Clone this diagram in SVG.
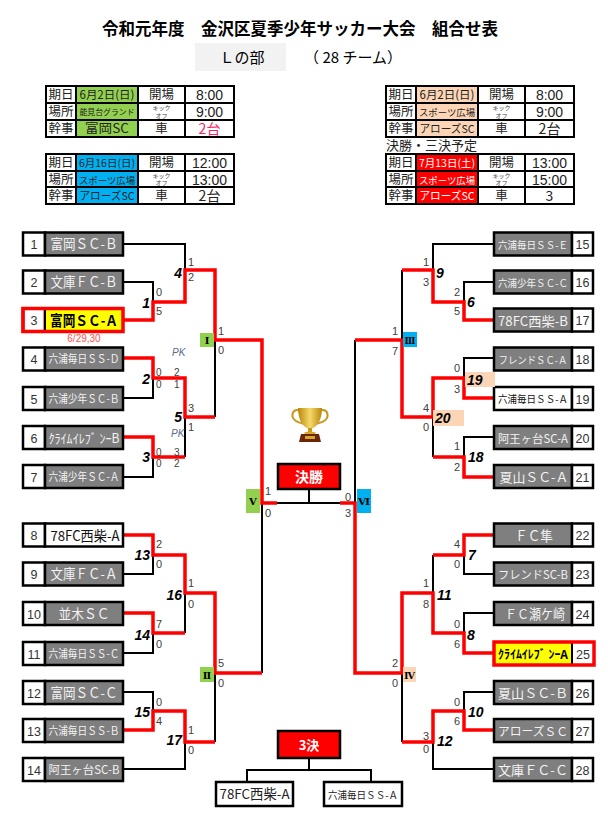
<svg xmlns="http://www.w3.org/2000/svg" width="608" height="815" viewBox="0 0 608 815">
<defs>
<style>
text{font-family:'Liberation Sans','Noto Sans CJK JP',sans-serif}
.jp{font-family:'Noto Sans CJK JP',sans-serif}
.k{fill:none;stroke:#000;stroke-width:2}
.r{fill:none;stroke:#ff0000;stroke-width:3.5;stroke-linejoin:miter}
.num{fill:#fff;stroke:#000;stroke-width:2.5}
.nm{fill:#7f7f7f;stroke:#000;stroke-width:2.5}
.nt{fill:#f2f2f2;text-anchor:middle;font-family:'Noto Sans CJK JP',sans-serif}
.nn{fill:#333;font-size:12.5px;text-anchor:middle}
.s{fill:#404040;font-size:11px}
.p{fill:#404040;font-size:10px}
.se{fill:#404040;font-size:11px;text-anchor:end}
.m{font-size:14px;font-weight:bold;font-style:italic;text-anchor:end;fill:#000}
.mr{font-size:14px;font-weight:bold;font-style:italic;fill:#000}
.rn{font-family:'DejaVu Serif',serif;font-weight:bold;font-size:10px;text-anchor:middle;fill:#000}
.cell{stroke:#000;stroke-width:2}
.tl{font-family:'Noto Sans CJK JP',sans-serif;font-size:12.5px;text-anchor:middle;fill:#222}
.tv{font-family:'Noto Sans CJK JP',sans-serif;text-anchor:middle;fill:#222}
.tt{font-size:14px;text-anchor:middle;fill:#222}
.ko{font-family:'Noto Sans CJK JP',sans-serif;font-size:6px;text-anchor:middle;fill:#444}
</style>
<linearGradient id="gold" x1="0" y1="0" x2="1" y2="0">
<stop offset="0" stop-color="#b8860b"/><stop offset="0.5" stop-color="#f7d96a"/><stop offset="1" stop-color="#b8860b"/>
</linearGradient>
</defs>
<rect width="608" height="815" fill="#fff"/>

<!-- title -->
<g id="title">
<text x="300" y="35" font-size="16.5" font-weight="bold" text-anchor="middle" class="jp" textLength="396" lengthAdjust="spacingAndGlyphs">令和元年度　金沢区夏季少年サッカー大会　組合せ表</text>
<rect x="195" y="43" width="91" height="28" fill="#f2f2f2"/>
<text x="242" y="63" font-size="15" text-anchor="middle" class="jp">Ｌの部</text>
<text x="353" y="63" font-size="15" text-anchor="middle" class="jp">（ 28 チーム）</text>
</g>

<!-- table 1 -->
<g id="table1">
<rect x="76" y="86" width="62" height="51" fill="#92d050"/>
<rect x="46" y="86" width="188" height="51" fill="none" class="cell"/>
<path class="cell" d="M76,86V137M138,86V137M185,86V137M46,103H234M46,120H234"/>
<text class="tl" x="61" y="99">期日</text><text class="tl" x="61" y="116">場所</text><text class="tl" x="61" y="133">幹事</text>
<text class="tv" x="107" y="99" font-size="11.5" textLength="55" lengthAdjust="spacingAndGlyphs">6月2日(日)</text>
<text class="tv" x="107" y="115" font-size="8" textLength="55" lengthAdjust="spacingAndGlyphs">能見台グランド</text>
<text class="tv" x="107" y="133" font-size="12.5" textLength="44" lengthAdjust="spacingAndGlyphs">富岡SC</text>
<text class="tl" x="161.5" y="99">開場</text>
<text class="ko" x="161.5" y="110">キック</text><text class="ko" x="161.5" y="117.5">オフ</text>
<text class="tl" x="161.5" y="133">車</text>
<text class="tt" x="209.5" y="100">8:00</text><text class="tt" x="209.5" y="117">9:00</text>
<text class="tv" x="209.5" y="134" font-size="14" style="fill:#ff2060">2台</text>
</g>

<!-- table 2 -->
<g id="table2">
<rect x="76" y="154" width="62" height="50" fill="#00b0f0"/>
<rect x="46" y="154" width="188" height="50" fill="none" class="cell"/>
<path class="cell" d="M76,154V204M138,154V204M185,154V204M46,171H234M46,187H234"/>
<text class="tl" x="61" y="167">期日</text><text class="tl" x="61" y="184">場所</text><text class="tl" x="61" y="200">幹事</text>
<text class="tv" x="107" y="167" font-size="10.5" textLength="56" lengthAdjust="spacingAndGlyphs">6月16日(日)</text>
<text class="tv" x="107" y="184" font-size="9.5" textLength="56" lengthAdjust="spacingAndGlyphs">スポーツ広場</text>
<text class="tv" x="107" y="200" font-size="11" textLength="55" lengthAdjust="spacingAndGlyphs">アローズSC</text>
<text class="tl" x="161.5" y="167">開場</text>
<text class="ko" x="161.5" y="177.5">キック</text><text class="ko" x="161.5" y="185">オフ</text>
<text class="tl" x="161.5" y="200">車</text>
<text class="tt" x="209.5" y="168">12:00</text><text class="tt" x="209.5" y="185">13:00</text>
<text class="tv" x="209.5" y="201" font-size="14">2台</text>
</g>

<!-- table 3 -->
<g id="table3">
<rect x="416" y="86" width="62" height="51" fill="#fbd5b5"/>
<rect x="386" y="86" width="188" height="51" fill="none" class="cell"/>
<path class="cell" d="M416,86V137M478,86V137M525,86V137M386,103H574M386,120H574"/>
<text class="tl" x="401" y="99">期日</text><text class="tl" x="401" y="116">場所</text><text class="tl" x="401" y="133">幹事</text>
<text class="tv" x="447" y="99" font-size="11.5" textLength="55" lengthAdjust="spacingAndGlyphs">6月2日(日)</text>
<text class="tv" x="447" y="116" font-size="9.5" textLength="56" lengthAdjust="spacingAndGlyphs">スポーツ広場</text>
<text class="tv" x="447" y="133" font-size="11" textLength="55" lengthAdjust="spacingAndGlyphs">アローズSC</text>
<text class="tl" x="501.5" y="99">開場</text>
<text class="ko" x="501.5" y="110">キック</text><text class="ko" x="501.5" y="117.5">オフ</text>
<text class="tl" x="501.5" y="133">車</text>
<text class="tt" x="549.5" y="100">8:00</text><text class="tt" x="549.5" y="117">9:00</text>
<text class="tv" x="549.5" y="134" font-size="14">2台</text>
</g>
<text x="386" y="150" font-size="13" class="jp" fill="#222">決勝・三決予定</text>

<!-- table 4 -->
<g id="table4">
<rect x="416" y="154" width="62" height="50" fill="#ff0000"/>
<rect x="386" y="154" width="188" height="50" fill="none" class="cell"/>
<path class="cell" d="M416,154V204M478,154V204M525,154V204M386,171H574M386,187H574"/>
<text class="tl" x="401" y="167">期日</text><text class="tl" x="401" y="184">場所</text><text class="tl" x="401" y="200">幹事</text>
<text class="tv" x="447" y="167" font-size="10.5" textLength="56" lengthAdjust="spacingAndGlyphs" style="fill:#fff">7月13日(土)</text>
<text class="tv" x="447" y="184" font-size="9.5" textLength="56" lengthAdjust="spacingAndGlyphs" style="fill:#fff">スポーツ広場</text>
<text class="tv" x="447" y="200" font-size="11" textLength="55" lengthAdjust="spacingAndGlyphs" style="fill:#fff">アローズSC</text>
<text class="tl" x="501.5" y="167">開場</text>
<text class="ko" x="501.5" y="177.5">キック</text><text class="ko" x="501.5" y="185">オフ</text>
<text class="tl" x="501.5" y="200">車</text>
<text class="tt" x="549.5" y="168">13:00</text><text class="tt" x="549.5" y="185">15:00</text>
<text class="tv" x="549.5" y="201" font-size="14">3</text>
</g>

<!-- connectors -->
<g id="connectors">
<path class="k" d="M123,244H185V270M123,282H153V302M123,398H153V378M185,457V417M123,477H153V457M215,340V417M262,503V673M123,574H153V555M123,653H153V633M185,593V633M123,692H153V711M123,769H185V742M215,673V742M277,503H340M309,489V503"/>
<path class="r" d="M123,320H153V302H185V270H215V340H262V503H277"/>
<path class="r" d="M123,358H153V378H185V417H215"/>
<path class="r" d="M123,437H153V457H185"/>
<path class="r" d="M123,535H153V555H185V593H215V673H262"/>
<path class="r" d="M123,613H153V633H185"/>
<path class="r" d="M123,730H153V711H185V742H215"/>
<path class="k" d="M494,244H433V270M494,282H464V302M402,270V340M494,358H464V378M494,437H464V457M433,417V457M355,340V503M494,574H464V555M433,555V593M494,613H464V633M494,692H464V711M494,769H433V742M402,673V742"/>
<path class="r" d="M494,320H464V302H433V270H402"/>
<path class="r" d="M494,398H464V378H433V417H402V340H355"/>
<path class="r" d="M494,477H464V457H433"/>
<path class="r" d="M494,535H464V555H433"/>
<path class="r" d="M494,653H464V633H433V593H402V673H355V503H340"/>
<path class="r" d="M494,730H464V711H433V742H402"/>
<path class="k" d="M309,758V770M247,782V770H371V782"/>
</g>

<!-- left teams -->
<g id="t1"><rect class="num" x="23" y="232.5" width="22" height="23"/><rect class="nm" x="45" y="232.5" width="78" height="23"/><text class="nn" x="34" y="249">1</text><text class="nt" x="84" y="249" font-size="14" textLength="67" lengthAdjust="spacingAndGlyphs">富岡ＳＣ-Ｂ</text></g>
<g id="t2"><rect class="num" x="23" y="270.5" width="22" height="23"/><rect class="nm" x="45" y="270.5" width="78" height="23"/><text class="nn" x="34" y="287">2</text><text class="nt" x="84" y="287" font-size="14" textLength="67" lengthAdjust="spacingAndGlyphs">文庫ＦＣ-Ｂ</text></g>
<g id="t3"><rect x="23" y="308.5" width="22" height="23" fill="#fff" stroke="#ff0000" stroke-width="3"/><rect x="45" y="308.5" width="78" height="23" fill="#ffff00" stroke="#000" stroke-width="2"/><rect x="23" y="308.5" width="100" height="23" fill="none" stroke="#ff0000" stroke-width="3.5"/><text class="nn" x="34" y="325">3</text><text x="84" y="326" font-size="14.5" font-weight="bold" text-anchor="middle" class="jp" textLength="68" lengthAdjust="spacingAndGlyphs">富岡ＳＣ-Ａ</text></g>
<text x="84" y="342" font-size="10" fill="#ff5050" text-anchor="middle">6/29,30</text>
<g id="t4"><rect class="num" x="23" y="347.5" width="22" height="23"/><rect class="nm" x="45" y="347.5" width="78" height="23"/><text class="nn" x="34" y="364">4</text><text class="nt" x="84" y="363" font-size="11" textLength="71" lengthAdjust="spacingAndGlyphs">六浦毎日ＳＳ-Ｄ</text></g>
<g id="t5"><rect class="num" x="23" y="387" width="22" height="23"/><rect class="nm" x="45" y="387" width="78" height="23"/><text class="nn" x="34" y="403.5">5</text><text class="nt" x="84" y="402.5" font-size="11" textLength="71" lengthAdjust="spacingAndGlyphs">六浦少年ＳＣ-Ｂ</text></g>
<g id="t6"><rect class="num" x="23" y="426" width="22" height="23"/><rect class="nm" x="45" y="426" width="78" height="23"/><text class="nn" x="34" y="442.5">6</text><text class="nt" x="84" y="442.5" font-size="13" textLength="71" lengthAdjust="spacingAndGlyphs">ｸﾗｲﾑｲﾚﾌﾞ ﾝｰB</text></g>
<g id="t7"><rect class="num" x="23" y="465" width="22" height="23"/><rect class="nm" x="45" y="465" width="78" height="23"/><text class="nn" x="34" y="481.5">7</text><text class="nt" x="84" y="481" font-size="11" textLength="71" lengthAdjust="spacingAndGlyphs">六浦少年ＳＣ-Ａ</text></g>
<g id="t8"><rect class="num" x="23" y="523.5" width="22" height="23"/><rect class="num" x="45" y="523.5" width="78" height="23"/><text class="nn" x="34" y="540">8</text><text x="85" y="540.5" font-size="14" text-anchor="middle" class="jp" fill="#111" textLength="69" lengthAdjust="spacingAndGlyphs">78FC西柴-A</text></g>
<g id="t9"><rect class="num" x="23" y="562.5" width="22" height="23"/><rect class="nm" x="45" y="562.5" width="78" height="23"/><text class="nn" x="34" y="579">9</text><text class="nt" x="84" y="579" font-size="14" textLength="67" lengthAdjust="spacingAndGlyphs">文庫ＦＣ-Ａ</text></g>
<g id="t10"><rect class="num" x="23" y="602" width="22" height="23"/><rect class="nm" x="45" y="602" width="78" height="23"/><text class="nn" x="34" y="618.5">10</text><text class="nt" x="84" y="618.5" font-size="14" textLength="51" lengthAdjust="spacingAndGlyphs">並木ＳＣ</text></g>
<g id="t11"><rect class="num" x="23" y="642" width="22" height="23"/><rect class="nm" x="45" y="642" width="78" height="23"/><text class="nn" x="34" y="658.5">11</text><text class="nt" x="84" y="657.5" font-size="11" textLength="71" lengthAdjust="spacingAndGlyphs">六浦毎日ＳＳ-Ｃ</text></g>
<g id="t12"><rect class="num" x="23" y="681" width="22" height="23"/><rect class="nm" x="45" y="681" width="78" height="23"/><text class="nn" x="34" y="697.5">12</text><text class="nt" x="84" y="697.5" font-size="14" textLength="67" lengthAdjust="spacingAndGlyphs">富岡ＳＣ-Ｃ</text></g>
<g id="t13"><rect class="num" x="23" y="719" width="22" height="23"/><rect class="nm" x="45" y="719" width="78" height="23"/><text class="nn" x="34" y="735.5">13</text><text class="nt" x="84" y="735" font-size="11" textLength="71" lengthAdjust="spacingAndGlyphs">六浦毎日ＳＳ-Ｂ</text></g>
<g id="t14"><rect class="num" x="23" y="758" width="22" height="23"/><rect class="nm" x="45" y="758" width="78" height="23"/><text class="nn" x="34" y="774.5">14</text><text class="nt" x="84" y="774" font-size="11.5" textLength="71" lengthAdjust="spacingAndGlyphs">阿王ヶ台SC-B</text></g>

<!-- right teams -->
<g id="t15"><rect class="nm" x="494" y="232.5" width="78" height="23"/><rect class="num" x="572" y="232.5" width="21" height="23"/><text class="nn" x="582.5" y="249">15</text><text class="nt" x="533" y="248.5" font-size="10" textLength="70" lengthAdjust="spacingAndGlyphs">六浦毎日ＳＳ-Ｅ</text></g>
<g id="t16"><rect class="nm" x="494" y="270.5" width="78" height="23"/><rect class="num" x="572" y="270.5" width="21" height="23"/><text class="nn" x="582.5" y="287">16</text><text class="nt" x="533" y="286.5" font-size="10" textLength="70" lengthAdjust="spacingAndGlyphs">六浦少年ＳＣ-Ｃ</text></g>
<g id="t17"><rect class="nm" x="494" y="308.5" width="78" height="23"/><rect class="num" x="572" y="308.5" width="21" height="23"/><text class="nn" x="582.5" y="325">17</text><text class="nt" x="533" y="325.5" font-size="13" textLength="70" lengthAdjust="spacingAndGlyphs">78FC西柴-B</text></g>
<g id="t18"><rect class="nm" x="494" y="347.5" width="78" height="23"/><rect class="num" x="572" y="347.5" width="21" height="23"/><text class="nn" x="582.5" y="364">18</text><text class="nt" x="533" y="363.5" font-size="10" textLength="69" lengthAdjust="spacingAndGlyphs">フレンドＳＣ-Ａ</text></g>
<g id="t19"><rect class="num" x="494" y="387" width="78" height="23"/><rect class="num" x="572" y="387" width="21" height="23"/><text class="nn" x="582.5" y="403.5">19</text><text x="533" y="403" font-size="10" text-anchor="middle" class="jp" fill="#111" textLength="70" lengthAdjust="spacingAndGlyphs">六浦毎日ＳＳ-Ａ</text></g>
<g id="t20"><rect class="nm" x="494" y="426" width="78" height="23"/><rect class="num" x="572" y="426" width="21" height="23"/><text class="nn" x="582.5" y="442.5">20</text><text class="nt" x="533" y="442.5" font-size="11.5" textLength="70" lengthAdjust="spacingAndGlyphs">阿王ヶ台SC-A</text></g>
<g id="t21"><rect class="nm" x="494" y="465" width="78" height="23"/><rect class="num" x="572" y="465" width="21" height="23"/><text class="nn" x="582.5" y="481.5">21</text><text class="nt" x="534" y="482" font-size="13" textLength="69" lengthAdjust="spacingAndGlyphs">夏山ＳＣ-Ａ</text></g>
<g id="t22"><rect class="nm" x="494" y="523.5" width="78" height="23"/><rect class="num" x="572" y="523.5" width="21" height="23"/><text class="nn" x="582.5" y="540">22</text><text class="nt" x="534" y="540.5" font-size="14" textLength="38" lengthAdjust="spacingAndGlyphs">ＦＣ隼</text></g>
<g id="t23"><rect class="nm" x="494" y="562.5" width="78" height="23"/><rect class="num" x="572" y="562.5" width="21" height="23"/><text class="nn" x="582.5" y="579">23</text><text class="nt" x="533" y="578.5" font-size="11.5" textLength="70" lengthAdjust="spacingAndGlyphs">フレンドSC-B</text></g>
<g id="t24"><rect class="nm" x="494" y="602" width="78" height="23"/><rect class="num" x="572" y="602" width="21" height="23"/><text class="nn" x="582.5" y="618.5">24</text><text class="nt" x="535" y="619" font-size="13.5" textLength="60" lengthAdjust="spacingAndGlyphs">ＦＣ瀬ケ崎</text></g>
<g id="t25"><rect x="494" y="642" width="78" height="23" fill="#ffff00" stroke="#000" stroke-width="2"/><rect x="572" y="642" width="22" height="23" fill="#fff" stroke="#000" stroke-width="2"/><rect x="494" y="642" width="100" height="23" fill="none" stroke="#ff0000" stroke-width="3.5"/><text class="nn" x="583" y="658.5">25</text><text x="533" y="659" font-size="12" font-weight="bold" text-anchor="middle" class="jp" fill="#000" textLength="70" lengthAdjust="spacingAndGlyphs">ｸﾗｲﾑｲﾚﾌﾞ ﾝｰA</text></g>
<g id="t26"><rect class="nm" x="494" y="681" width="78" height="23"/><rect class="num" x="572" y="681" width="21" height="23"/><text class="nn" x="582.5" y="697.5">26</text><text class="nt" x="533" y="697.5" font-size="13" textLength="70" lengthAdjust="spacingAndGlyphs">夏山ＳＣ-Ｂ</text></g>
<g id="t27"><rect class="nm" x="494" y="719" width="78" height="23"/><rect class="num" x="572" y="719" width="21" height="23"/><text class="nn" x="582.5" y="735.5">27</text><text class="nt" x="533" y="736" font-size="12" textLength="70" lengthAdjust="spacingAndGlyphs">アローズＳＣ</text></g>
<g id="t28"><rect class="nm" x="494" y="758" width="78" height="23"/><rect class="num" x="572" y="758" width="21" height="23"/><text class="nn" x="582.5" y="774.5">28</text><text class="nt" x="533" y="775" font-size="13" textLength="70" lengthAdjust="spacingAndGlyphs">文庫ＦＣ-Ｃ</text></g>

<!-- round labels -->
<g id="r1"><rect x="200" y="333" width="14" height="14" fill="#92d050"/><text class="rn" x="207" y="344">Ⅰ</text></g>
<g id="r2"><rect x="200" y="667" width="14" height="15" fill="#92d050"/><text class="rn" x="207" y="678.5">Ⅱ</text></g>
<g id="r3"><rect x="403" y="332" width="14" height="15" fill="#00b0f0"/><text class="rn" x="410" y="343.5" textLength="11" lengthAdjust="spacingAndGlyphs">Ⅲ</text></g>
<g id="r4"><rect x="403" y="667" width="13" height="15" fill="#fbd5b5"/><text class="rn" x="409.5" y="678.5" textLength="11" lengthAdjust="spacingAndGlyphs">Ⅳ</text></g>
<g id="r5"><rect x="246" y="489" width="14" height="24" fill="#92d050"/><text class="rn" x="253" y="505">Ⅴ</text></g>
<g id="r6"><rect x="357" y="489" width="14" height="24" fill="#00b0f0"/><text class="rn" x="364" y="505" textLength="12" lengthAdjust="spacingAndGlyphs">Ⅵ</text></g>

<!-- final boxes -->
<g id="final"><rect x="278" y="464" width="62" height="25" fill="#ff0000" stroke="#000" stroke-width="2.5"/><text x="309" y="482" font-size="14" font-weight="bold" text-anchor="middle" class="jp" fill="#fff">決勝</text></g>
<g id="third"><rect x="278" y="731" width="62" height="27" fill="#ff0000" stroke="#000" stroke-width="2.5"/><text x="309" y="749.5" font-size="13" font-weight="bold" text-anchor="middle" class="jp" fill="#fff">3決</text></g>
<g id="third-a"><rect x="216" y="782" width="77" height="24" fill="#fff" stroke="#000" stroke-width="2.5"/><text x="254.5" y="799" font-size="13.5" text-anchor="middle" class="jp" fill="#222" textLength="70" lengthAdjust="spacingAndGlyphs">78FC西柴-A</text></g>
<g id="third-b"><rect x="324" y="782" width="78" height="24" fill="#fff" stroke="#000" stroke-width="2.5"/><text x="363" y="798.5" font-size="10.5" text-anchor="middle" class="jp" fill="#222" textLength="70" lengthAdjust="spacingAndGlyphs">六浦毎日ＳＳ-Ａ</text></g>

<!-- trophy -->
<g id="trophy">
<path d="M299,410C292,409 290,417 296,421C299,423 302,423 304,424" fill="none" stroke="#c9961a" stroke-width="2"/>
<path d="M321,410C328,409 330,417 324,421C321,423 318,423 316,424" fill="none" stroke="#c9961a" stroke-width="2"/>
<path d="M298,408H322C322,420 317,428 310,429C303,428 298,420 298,408Z" fill="url(#gold)"/>
<rect x="308" y="428" width="4" height="5" fill="#c9961a"/>
<ellipse cx="310" cy="433" rx="6" ry="1.5" fill="#d9a52a"/>
<path d="M301,434H319L321,442H299Z" fill="#6b2608"/>
<rect x="305" y="436" width="10" height="3" fill="#d9a52a"/>
</g>

<!-- left labels -->
<g id="left-labels">
<text class="m" x="182" y="278">4</text>
<text class="m" x="150" y="308">1</text>
<text class="m" x="150" y="384">2</text>
<text class="m" x="182" y="422">5</text>
<text class="m" x="150" y="462">3</text>
<text class="m" x="150" y="560">13</text>
<text class="m" x="182" y="600">16</text>
<text class="m" x="150" y="640">14</text>
<text class="m" x="150" y="717">15</text>
<text class="m" x="182" y="745">17</text>
<text class="s" x="188" y="266">1</text><text class="s" x="188" y="281">2</text>
<text class="s" x="156" y="296">0</text><text class="s" x="156" y="315">5</text>
<text class="s" x="218" y="335">1</text><text class="s" x="218" y="354">0</text>
<text x="172" y="356" font-size="10" font-style="italic" fill="#5a6a8a">PK</text>
<text class="p" x="156" y="376">0</text><text class="p" x="174" y="376">2</text>
<text class="p" x="156" y="388">0</text><text class="p" x="174" y="388">1</text>
<text class="s" x="188" y="412">3</text><text class="s" x="188" y="431">1</text>
<text x="171" y="437" font-size="10" font-style="italic" fill="#5a6a8a">PK</text>
<text class="p" x="156" y="456">0</text><text class="p" x="174" y="456">3</text>
<text class="p" x="156" y="467">0</text><text class="p" x="174" y="467">2</text>
<text class="s" x="265" y="495">1</text><text class="s" x="265" y="517">0</text>
<text class="s" x="156" y="548">2</text><text class="s" x="156" y="568">0</text>
<text class="s" x="188" y="587">1</text><text class="s" x="188" y="608">0</text>
<text class="s" x="156" y="628">7</text><text class="s" x="156" y="648">0</text>
<text class="s" x="218" y="667">5</text><text class="s" x="218" y="687">0</text>
<text class="s" x="156" y="706">0</text><text class="s" x="156" y="725">4</text>
<text class="s" x="188" y="734">1</text><text class="s" x="188" y="754">0</text>
</g>

<!-- right labels -->
<g id="right-labels">
<rect x="465" y="372" width="30" height="15" fill="#fbd5b5"/>
<rect x="433" y="410" width="31" height="16" fill="#fbd5b5"/>
<text class="mr" x="436" y="278">9</text>
<text class="mr" x="467" y="307">6</text>
<text class="mr" x="467" y="385" font-size="13">19</text>
<text class="mr" x="435" y="423" font-size="15">20</text>
<text class="mr" x="468" y="462">18</text>
<text class="mr" x="468" y="560">7</text>
<text class="mr" x="437" y="600">11</text>
<text class="mr" x="467" y="640">8</text>
<text class="mr" x="468" y="717">10</text>
<text class="mr" x="437" y="746">12</text>
<text class="se" x="429" y="266">1</text><text class="se" x="429" y="286">3</text>
<text class="se" x="460" y="296">2</text><text class="se" x="460" y="315">5</text>
<text class="se" x="398" y="335">1</text><text class="se" x="398" y="355">7</text>
<text class="se" x="460" y="372">0</text><text class="se" x="460" y="393">3</text>
<text class="se" x="429" y="412">4</text><text class="se" x="429" y="431">0</text>
<text class="se" x="460" y="450">1</text><text class="se" x="460" y="471">2</text>
<text class="se" x="351" y="501">0</text><text class="se" x="351" y="517">3</text>
<text class="se" x="460" y="548">4</text><text class="se" x="460" y="568">0</text>
<text class="se" x="429" y="587">1</text><text class="se" x="429" y="608">8</text>
<text class="se" x="460" y="628">0</text><text class="se" x="460" y="648">6</text>
<text class="se" x="398" y="667">2</text><text class="se" x="398" y="687">0</text>
<text class="se" x="460" y="706">0</text><text class="se" x="460" y="725">6</text>
<text class="se" x="429" y="740">3</text><text class="se" x="429" y="753">0</text>
</g>
</svg>
